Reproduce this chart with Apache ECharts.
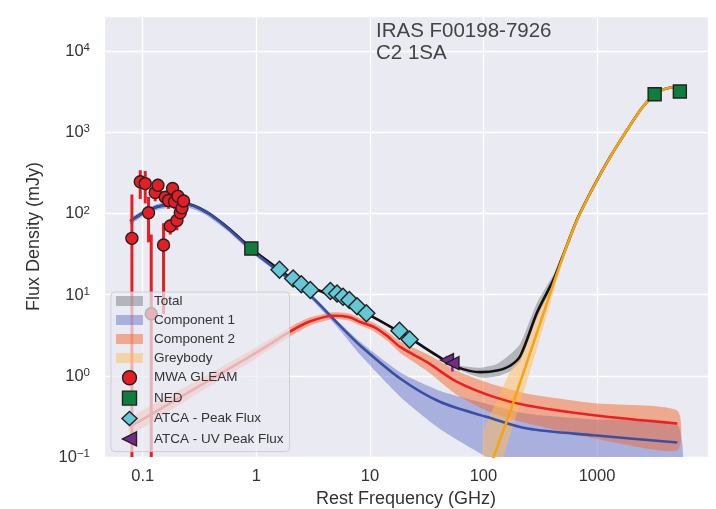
<!DOCTYPE html>
<html>
<head>
<meta charset="utf-8">
<script src="https://cdn.jsdelivr.net/npm/echarts@6/dist/echarts.min.js"></script>
<style>
  html, body { margin: 0; padding: 0; background: #ffffff; }
  #chart { width: 716px; height: 509px; }
</style>
</head>
<body>
<div id="chart"></div>
<script>
// ---- Photometry (rest frequency in GHz, flux density in mJy) ----
const gleamFreq = [0.0803, 0.0951, 0.1052, 0.1125, 0.1188, 0.1288, 0.1361, 0.1525, 0.1578,
                   0.1688, 0.1747, 0.1831, 0.1906, 0.2001, 0.2042, 0.2140, 0.2215, 0.2288];
const gleamFlux = [49.3, 245, 233, 102, 5.8, 181, 222, 40.8, 158,
                   144, 69.9, 203, 139, 82, 163, 102, 117, 142];
const gleamErr  = [122, 95, 100, 58, 49, 40, 45, 35, 30,
                   30, 15, 30, 25, 20, 25, 25, 20, 20];

const nedFreq = [0.904, 3216, 5361];
const nedFlux = [36.9, 2940, 3170];

const atcaFreq = [1.60, 2.11, 2.49, 2.99, 4.49, 5.14, 5.80, 6.60, 7.71, 9.31, 18.2, 22.4];
const atcaFlux = [20.2, 15.8, 13.4, 11.4, 11.1, 10.3, 9.4, 8.6, 7.2, 5.9, 3.6, 2.8];

const uvFreq = [47.7, 53.3];
const uvFlux = [1.56, 1.43];
const uvErr  = [0.2, 0.3];

// ---- Model curves ----
const totalFreq = [0.0776, 0.1016, 0.1426, 0.245, 0.368, 0.552, 0.773, 0.886, 1.2, 1.60, 2.49, 3.66,
                   5.5, 10.8, 17.4, 24.3, 39.1, 58.6, 94.1, 132, 173, 212, 297, 416, 490, 670,
                   938, 1315, 1845, 2416, 2768, 3165, 3626, 4446, 5090];
const totalFlux = [80.5, 102.5, 123.5, 130, 103, 68, 45, 37.5, 27.3, 20.2, 13.2, 11.1,
                   8.4, 5.25, 3.6, 2.71, 1.77, 1.28, 1.11, 1.16, 1.34, 1.78, 6.05, 15.5, 27.8, 85,
                   217, 506, 1074, 1891, 2389, 2881, 3261, 3549, 3590];
const totalLo   = [78.1, 99.4, 119.8, 126.1, 99.9, 66.0, 43.7, 36.4, 26.5, 19.6, 12.8, 10.8,
                   8.1, 5.09, 3.49, 2.63, 1.72, 1.22, 0.95, 0.99, 1.15, 1.53, 5.2, 13.6, 25.5, 80,
                   205, 485, 1030, 1830, 2300, 2790, 3160, 3440, 3460];
const totalHi   = [82.9, 105.6, 127.2, 133.9, 106.1, 70.0, 46.4, 38.6, 28.1, 20.8, 13.6, 11.4,
                   8.7, 5.41, 3.71, 2.79, 1.85, 1.36, 1.26, 1.4, 1.85, 2.5, 8.0, 18, 31, 91,
                   233, 530, 1105, 1940, 2460, 2970, 3360, 3660, 3710];

const comp1Freq = [0.0776, 0.1016, 0.1426, 0.245, 0.368, 0.552, 0.773, 0.886, 1.42, 2.80, 5.50,
                   8.25, 18.6, 41.8, 108, 243, 938, 5090];
const comp1Flux = [80, 102, 123, 129, 102, 66.8, 43.7, 36.2, 21.6, 10.6, 4.1,
                   2.35, 0.92, 0.475, 0.311, 0.224, 0.185, 0.151];
const comp1Lo   = [73.6, 93.8, 113.2, 118.7, 93.8, 61.5, 40.2, 33.3, 20.3, 9.9, 3.6,
                   1.8, 0.55, 0.22, 0.1, 0.06, 0.04, 0.03];
const comp1Hi   = [86.4, 110, 133, 139, 110, 72.1, 47.2, 39.1, 22.9, 11.3, 4.4,
                   2.6, 1.1, 0.65, 0.45, 0.34, 0.29, 0.25];

const comp2Freq = [0.0776, 0.3, 1.0, 2.12, 2.99, 4.76, 6.5, 8.25, 10.8, 14.2, 18.6, 31.9,
                   58.6, 123, 243, 938, 5090];
const comp2Flux = [0.237, 0.72, 1.93, 3.7, 4.7, 5.5, 5.3, 4.6, 4.0, 3.1, 2.25, 1.47,
                   0.84, 0.55, 0.43, 0.326, 0.258];
const comp2Lo   = [0.19, 0.60, 1.65, 3.25, 4.2, 5.0, 4.8, 4.15, 3.55, 2.7, 1.9, 1.15,
                   0.58, 0.34, 0.26, 0.17, 0.12];
const comp2Hi   = [0.30, 0.87, 2.25, 4.2, 5.25, 6.05, 5.85, 5.1, 4.5, 3.55, 2.65, 1.85,
                   1.15, 0.78, 0.6, 0.46, 0.375];

const greyFreq = [100, 123, 175, 300, 490, 670, 938, 1315, 1845, 2416, 2768, 3165, 3626, 4446, 5090];
const greyFlux = [0.045, 0.1, 0.39, 3.6, 27, 84, 216, 505, 1073, 1890, 2388, 2880, 3260, 3548, 3589];
const greyLo   = [0.018, 0.042, 0.2, 2.3, 23.5, 77, 204, 485, 1030, 1820, 2300, 2780, 3140, 3420, 3450];
const greyHi   = [0.2, 0.41, 1.2, 5.6, 31, 92, 229, 525, 1115, 1960, 2480, 2980, 3380, 3680, 3730];

const freqTicks = ['0.1', '1', '10', '100', '1000'];

// ---- Styling ----
const FONT = '"Liberation Sans", Arial, sans-serif';
const TEXT = '#333333';
const C = {
  totalBand: 'rgba(124,128,134,0.5)',
  comp1Band: 'rgba(106,118,202,0.5)',
  comp2Band: 'rgba(244,104,44,0.5)',
  greyBand:  'rgba(255,188,90,0.5)',
  total: '#111111',
  comp1: '#3750A5',
  comp2: '#F01E23',
  grey:  '#F5A514',
  gleam: '#E61E23',
  ned:   '#0F7D3C',
  atca:  '#64C8D7',
  uv:    '#782A8C',
  edge:  '#222222'
};
const BAND_ICON = 'path://M0,0h27v10h-27z';
const SQUARE_ICON = 'path://M0,0h10v10h-10z';
const DIAMOND_ICON = 'path://M7,0L14,6.5L7,13L0,6.5Z';
const LEFT_TRI = 'path://M0,5L10,0L10,10Z';

function pairs(xs, ys) { return xs.map((x, i) => [x, ys[i]]); }

function clipRect(cs) {
  return { type: 'rect', shape: { x: cs.x, y: cs.y, width: cs.width, height: cs.height } };
}

// Shaded uncertainty envelope drawn as one polygon through the axis scales
function bandSeries(name, freq, lo, hi, color, z) {
  return {
    type: 'custom', name: name, z: z, silent: true,
    coordinateSystem: 'cartesian2d',
    data: freq.map((f, i) => [f, lo[i], hi[i]]),
    encode: { x: 0, y: [1, 2] },
    renderItem: function (params, api) {
      if (params.dataIndex !== 0) return null;
      const pts = [];
      for (let i = 0; i < freq.length; i++) pts.push(api.coord([freq[i], hi[i]]));
      for (let i = freq.length - 1; i >= 0; i--) pts.push(api.coord([freq[i], lo[i]]));
      return {
        type: 'polygon',
        shape: { points: pts, smooth: 0.2 },
        style: { fill: color, stroke: null },
        clipPath: clipRect(params.coordSys)
      };
    }
  };
}

function lineSeries(name, freq, flux, color, z) {
  return {
    type: 'line', name: name, z: z, silent: true,
    data: pairs(freq, flux),
    showSymbol: false, symbol: 'none', smooth: 0.3,
    lineStyle: { color: color, width: 2.6 },
    clip: true
  };
}

function errorSeries(name, freq, flux, err, color, width, z) {
  return {
    type: 'custom', name: name, z: z, silent: true,
    coordinateSystem: 'cartesian2d',
    data: freq.map((f, i) => [f, flux[i], err[i]]),
    encode: { x: 0, y: 1 },
    renderItem: function (params, api) {
      const f = api.value(0), s = api.value(1), e = api.value(2);
      const top = api.coord([f, s + e]);
      const bot = api.coord([f, Math.max(s - e, 1e-4)]);
      return {
        type: 'line',
        shape: { x1: top[0], y1: top[1], x2: bot[0], y2: bot[1] },
        style: { stroke: color, lineWidth: width },
        clipPath: clipRect(params.coordSys)
      };
    }
  };
}

function markerSeries(name, freq, flux, symbol, size, color, z) {
  return {
    type: 'scatter', name: name, z: z, silent: true,
    data: pairs(freq, flux),
    symbol: symbol, symbolSize: size, symbolKeepAspect: true,
    itemStyle: { color: color, borderColor: C.edge, borderWidth: 1.4, opacity: 1 }
  };
}

function supLabel(v) {
  const e = Math.round(Math.log10(v));
  return '{b|10}{s|' + (e < 0 ? '\u2212' + (-e) : e) + '}';
}

const chart = echarts.init(document.getElementById('chart'), null, { renderer: 'canvas' });

chart.setOption({
  animation: false,
  backgroundColor: '#ffffff',
  textStyle: { fontFamily: FONT },
  title: {
    text: 'IRAS F00198-7926\nC2 1SA',
    left: 376, top: 20, padding: 0,
    textStyle: { fontFamily: FONT, fontSize: 20.5, lineHeight: 22, fontWeight: 'normal', color: '#444444' }
  },
  grid: {
    left: 104, right: 8, top: 16, bottom: 52,
    containLabel: false, outerBoundsMode: 'none',
    show: true, backgroundColor: '#EAEAF2', borderWidth: 0
  },
  xAxis: {
    type: 'log', logBase: 10, min: 0.0456, max: 9486,
    name: 'Rest Frequency (GHz)', nameLocation: 'middle', nameGap: 33,
    nameTextStyle: { fontFamily: FONT, fontSize: 18, color: TEXT },
    axisLine: { show: false }, axisTick: { show: false },
    splitLine: { show: true, lineStyle: { color: '#ffffff', width: 1.3 } },
    minorSplitLine: { show: false },
    axisLabel: {
      fontFamily: FONT, fontSize: 16.5, color: TEXT, margin: 11,
      showMinLabel: false, showMaxLabel: false,
      formatter: function (v) {
        const e = Math.round(Math.log10(v));
        return freqTicks[e + 1] !== undefined ? freqTicks[e + 1] : '';
      }
    }
  },
  yAxis: {
    type: 'log', logBase: 10, min: 0.1, max: 27000,
    name: 'Flux Density (mJy)', nameLocation: 'middle', nameGap: 61,
    nameTextStyle: { fontFamily: FONT, fontSize: 18, color: TEXT },
    axisLine: { show: false }, axisTick: { show: false },
    splitLine: { show: true, lineStyle: { color: '#ffffff', width: 1.3 } },
    minorSplitLine: { show: false },
    axisLabel: {
      margin: 14, showMinLabel: true, showMaxLabel: false,
      formatter: supLabel,
      rich: {
        b: { fontFamily: FONT, fontSize: 16.5, color: TEXT, lineHeight: 18, verticalAlign: 'bottom' },
        s: { fontFamily: FONT, fontSize: 11.5, color: TEXT, lineHeight: 10, verticalAlign: 'top' }
      }
    }
  },
  legend: {
    orient: 'vertical', left: 111, top: 292, z: 20,
    padding: [2, 6, 5, 5],
    backgroundColor: 'rgba(234,234,242,0.72)',
    borderColor: 'rgba(200,200,200,0.8)', borderWidth: 1, borderRadius: 4,
    itemWidth: 27, itemHeight: 14, itemGap: 5.0,
    selectedMode: false,
    textStyle: { fontFamily: FONT, fontSize: 13.5, color: TEXT, lineHeight: 14, padding: [0, 0, 0, 6] },
    data: [
      { name: 'Total', icon: BAND_ICON, itemStyle: { color: C.totalBand, borderWidth: 0 } },
      { name: 'Component 1', icon: BAND_ICON, itemStyle: { color: C.comp1Band, borderWidth: 0 } },
      { name: 'Component 2', icon: BAND_ICON, itemStyle: { color: C.comp2Band, borderWidth: 0 } },
      { name: 'Greybody', icon: BAND_ICON, itemStyle: { color: C.greyBand, borderWidth: 0 } },
      { name: 'MWA GLEAM', icon: 'circle', itemStyle: { color: C.gleam, borderColor: C.edge, borderWidth: 1.4 } },
      { name: 'NED', icon: SQUARE_ICON, itemStyle: { color: C.ned, borderColor: C.edge, borderWidth: 1.4 } },
      { name: 'ATCA - Peak Flux', icon: DIAMOND_ICON, itemStyle: { color: C.atca, borderColor: C.edge, borderWidth: 1.4 } },
      { name: 'ATCA - UV Peak Flux', icon: LEFT_TRI, itemStyle: { color: C.uv, borderColor: C.edge, borderWidth: 1.4 } }
    ]
  },
  series: [
    bandSeries('Total', totalFreq, totalLo, totalHi, C.totalBand, 1),
    bandSeries('Component 1', comp1Freq, comp1Lo, comp1Hi, C.comp1Band, 1),
    bandSeries('Component 2', comp2Freq, comp2Lo, comp2Hi, C.comp2Band, 1),
    bandSeries('Greybody', greyFreq, greyLo, greyHi, C.greyBand, 1),
    lineSeries('Total', totalFreq, totalFlux, C.total, 2),
    lineSeries('Component 1', comp1Freq, comp1Flux, C.comp1, 2),
    lineSeries('Component 2', comp2Freq, comp2Flux, C.comp2, 2),
    lineSeries('Greybody', greyFreq, greyFlux, C.grey, 2),
    errorSeries('MWA GLEAM', gleamFreq, gleamFlux, gleamErr, C.gleam, 3, 3),
    markerSeries('MWA GLEAM', gleamFreq, gleamFlux, 'circle', 12, C.gleam, 4),
    markerSeries('NED', nedFreq, nedFlux, 'rect', 13, C.ned, 4),
    markerSeries('ATCA - Peak Flux', atcaFreq, atcaFlux, 'diamond', [17, 17], C.atca, 4),
    errorSeries('ATCA - UV Peak Flux', uvFreq, uvFlux, uvErr, C.uv, 2.5, 3),
    markerSeries('ATCA - UV Peak Flux', uvFreq, uvFlux, LEFT_TRI, 13, C.uv, 4)
  ]
});
</script>
</body>
</html>
